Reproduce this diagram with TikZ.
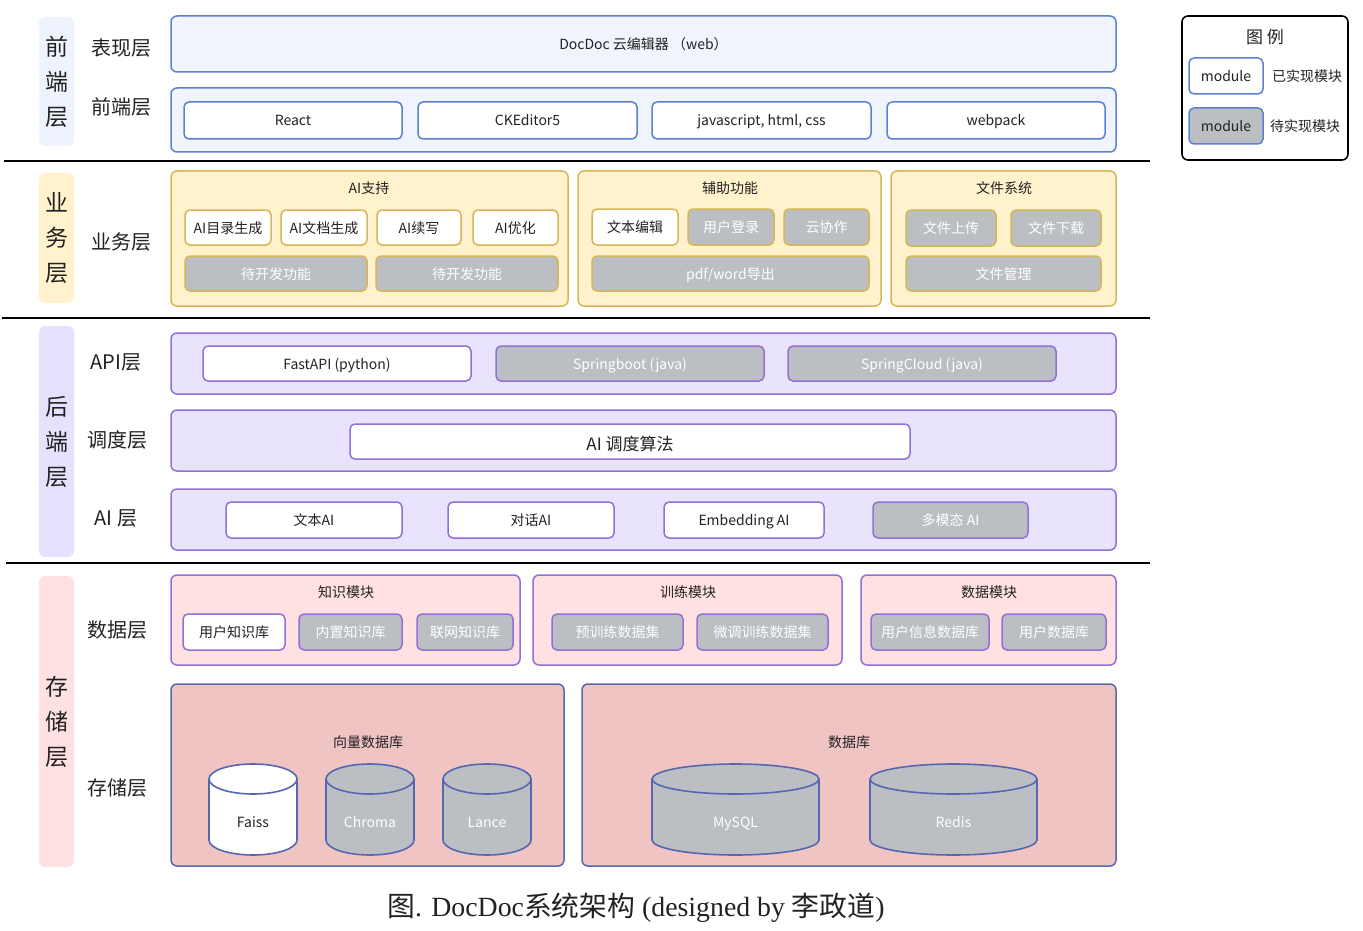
\documentclass[tikz,border=0pt]{standalone}
\usepackage{fontspec}
\setmainfont{Noto Sans CJK SC}
\newfontfamily\cjk{Noto Sans CJK SC}
\newfontfamily\serif{Liberation Serif}
\definecolor{txt}{HTML}{222222}
\definecolor{feb}{HTML}{5B80D4}
\definecolor{febg}{HTML}{EFF4FD}
\definecolor{bub}{HTML}{D6B656}
\definecolor{bubg}{HTML}{FFF2CC}
\definecolor{beb}{HTML}{9170D8}
\definecolor{bebg}{HTML}{EAE3FE}
\definecolor{stbg}{HTML}{FFE1E1}
\definecolor{dbb}{HTML}{5567B0}
\definecolor{dbbg}{HTML}{F1C4C4}
\definecolor{grayf}{HTML}{BBBEC3}
\definecolor{tagfe}{HTML}{EEF3FD}
\definecolor{tagbu}{HTML}{FFF2CC}
\definecolor{tagbe}{HTML}{E8E1FE}
\definecolor{tagst}{HTML}{FFE1E3}
\newcommand\fsz[1]{\fontsize{#1}{#1}\selectfont}
\newcommand\bx[7]{\node[#1, minimum width={(#5-#3)*1pt}, minimum height={(#6-#4)*1pt}] (#2) at ({(#3+#5)/2},{(#4+#6)/2}) {#7};}
\newcommand\cyl[6]{%
  \filldraw[cylst, fill=#1] (#3,779) -- (#3,840)
    arc[start angle=180,end angle=360,x radius={(#4-#3)/2*1pt},y radius=15pt] -- (#4,779)
    arc[start angle=0,end angle=180,x radius={(#4-#3)/2*1pt},y radius=15pt] -- cycle;
  \draw[cylst] (#3,779) arc[start angle=180,end angle=360,x radius={(#4-#3)/2*1pt},y radius=15pt];
  \node[text=#5, font=\fsz{14}, text height=12.4pt, text depth=1.4pt] (#2) at ({(#3+#4)/2},821.5) {#6};}
\begin{document}
\begin{tikzpicture}[x=1pt,y=-1pt,
  bx/.style={draw, line width=1.5pt, rounded corners=5pt, inner sep=0pt, align=center, text=txt, font=\fsz{14}, text height=12.4pt, text depth=1.4pt},
  feO/.style={bx, draw=feb, fill=febg, rounded corners=6pt},
  feI/.style={bx, draw=feb, fill=white},
  buO/.style={bx, draw=bub, fill=bubg, rounded corners=6pt},
  buI/.style={bx, draw=bub, fill=white},
  buG/.style={bx, draw=bub, fill=grayf, text=white},
  beO/.style={bx, draw=beb, fill=bebg, rounded corners=6pt},
  beI/.style={bx, draw=beb, fill=white},
  beG/.style={bx, draw=beb, fill=grayf, text=white},
  stO/.style={bx, draw=beb, fill=stbg, rounded corners=6pt},
  stI/.style={bx, draw=beb, fill=white},
  stG/.style={bx, draw=beb, fill=grayf, text=white},
  dbO/.style={bx, draw=dbb, fill=dbbg, rounded corners=6pt},
  legO/.style={bx, draw=black, fill=white, line width=1.6pt, rounded corners=6pt},
  tagbox/.style={rounded corners=6pt, inner sep=0pt, align=center, text=txt, font={\fontsize{23}{35}\selectfont}},
  lab/.style={font=\fsz{20}, text=txt, text height=18.6pt, text depth=1.4pt},
  ttl/.style={font=\fsz{14}, text=txt},
  sepline/.style={line width=1.6pt, black},
  cylst/.style={draw=dbb, line width=1.6pt}
]
\useasboundingbox (0,0) rectangle (1363,931);

% layer tags
\bx{tagbox, fill=tagfe}{tagFE}{39}{17}{74}{146}{前\\端\\层}
\bx{tagbox, fill=tagbu}{tagBU}{39}{173}{74}{303}{业\\务\\层}
\bx{tagbox, fill=tagbe}{tagBE}{39}{326}{74}{557}{后\\端\\层}
\bx{tagbox, fill=tagst}{tagST}{39}{576}{74}{867}{存\\储\\层}

% sub-layer labels
\node[lab] (lbPres) at (121,47) {表现层};
\node[lab] (lbFE) at (121,106) {前端层};
\node[lab] (lbBU) at (121,241) {业务层};
\node[lab] (lbAPI) at (116,361) {API层};
\node[lab] (lbSch) at (117,439) {调度层};
\node[lab] (lbAI) at (116,517) {AI 层};
\node[lab] (lbData) at (117,629) {数据层};
\node[lab] (lbStore) at (117,787) {存储层};

% separators
\draw[sepline] (4,161) -- (1150,161);
\draw[sepline] (2,318) -- (1150,318);
\draw[sepline] (6,563) -- (1150,563);

% frontend
\bx{feO}{pres}{171}{16}{1116}{72}{DocDoc 云编辑器 （web）}
\bx{feO}{fe}{171}{88}{1116}{152}{}
\bx{feI}{react}{184}{102}{402}{139}{React}
\bx{feI}{cke}{418}{102}{637}{139}{CKEditor5}
\bx{feI}{js}{652}{102}{871}{139}{javascript, html, css}
\bx{feI}{wp}{887}{102}{1105}{139}{webpack}

% business
\bx{buO}{aisup}{171}{171}{568}{306}{}
\node[ttl] (aisupT) at (369,188) {AI支持};
\bx{buI}{aidir}{185}{210}{271}{245}{AI目录生成}
\bx{buI}{aidoc}{281}{210}{367}{245}{AI文档生成}
\bx{buI}{aicont}{377}{210}{461}{245}{AI续写}
\bx{buI}{aiopt}{473}{210}{558}{245}{AI优化}
\bx{buG}{todoA}{185}{256}{367}{291}{待开发功能}
\bx{buG}{todoB}{376}{256}{558}{291}{待开发功能}
\bx{buO}{aux}{578}{171}{881}{306}{}
\node[ttl] (auxT) at (730,188) {辅助功能};
\bx{buI}{edit}{592}{209}{678}{245}{文本编辑}
\bx{buG}{login}{688}{209}{774}{245}{用户登录}
\bx{buG}{collab}{784}{209}{869}{245}{云协作}
\bx{buG}{export}{592}{256}{869}{291}{pdf/word导出}
\bx{buO}{fs}{891}{171}{1116}{306}{}
\node[ttl] (fsT) at (1004,188) {文件系统};
\bx{buG}{up}{906}{210}{996}{246}{文件上传}
\bx{buG}{down}{1011}{210}{1101}{246}{文件下载}
\bx{buG}{mgmt}{906}{256}{1101}{291}{文件管理}

% backend
\bx{beO}{api}{171}{333}{1116}{394}{}
\bx{beI}{fastapi}{203}{346}{471}{381}{FastAPI (python)}
\bx{beG}{sboot}{496}{346}{764}{381}{Springboot (java)}
\bx{beG}{scloud}{788}{346}{1056}{381}{SpringCloud (java)}
\bx{beO}{sched}{171}{410}{1116}{471}{}
\bx{beI, font=\fsz{17}, text height=19.4pt, text depth=1.4pt}{algo}{350}{424}{910}{459}{AI 调度算法}
\bx{beO}{ai}{171}{489}{1116}{550}{}
\bx{beI}{textai}{226}{502}{402}{538}{文本AI}
\bx{beI}{chatai}{448}{502}{614}{538}{对话AI}
\bx{beI}{embai}{664}{502}{824}{538}{Embedding AI}
\bx{beG}{mmai}{873}{502}{1028}{538}{多模态 AI}

% storage - data layer
\bx{stO}{know}{171}{575}{520}{665}{}
\node[ttl] (knowT) at (346,592) {知识模块};
\bx{stI}{uk}{183}{614}{285}{650}{用户知识库}
\bx{stG}{bk}{299}{614}{402}{650}{内置知识库}
\bx{stG}{nk}{417}{614}{513}{650}{联网知识库}
\bx{stO}{train}{533}{575}{842}{665}{}
\node[ttl] (trainT) at (688,592) {训练模块};
\bx{stG}{pre}{552}{614}{683}{650}{预训练数据集}
\bx{stG}{ft}{697}{614}{828}{650}{微调训练数据集}
\bx{stO}{data}{861}{575}{1116}{665}{}
\node[ttl] (dataT) at (989,592) {数据模块};
\bx{stG}{uinfo}{871}{614}{989}{650}{用户信息数据库}
\bx{stG}{udb}{1002}{614}{1106}{650}{用户数据库}

% storage - databases
\bx{dbO}{vec}{171}{684}{564}{866}{}
\node[ttl] (vecT) at (368,742) {向量数据库};
\bx{dbO}{rdb}{582}{684}{1116}{866}{}
\node[ttl] (rdbT) at (849,742) {数据库};
\cyl{white}{faiss}{209}{297}{txt}{Faiss}
\cyl{grayf}{chroma}{326}{414}{white}{Chroma}
\cyl{grayf}{lance}{443}{531}{white}{Lance}
\cyl{grayf}{mysql}{652}{819}{white}{MySQL}
\cyl{grayf}{redis}{870}{1037}{white}{Redis}

% legend
\bx{legO}{legend}{1182}{16}{1348}{160}{}
\node[font=\fsz{17}, text=txt, text height=16.4pt, text depth=1.4pt] (legT) at (1265,36) {图 例};
\bx{feI}{legA}{1189}{58}{1263}{94}{module}
\node[ttl] (legAT) at (1307,76) {已实现模块};
\bx{feI, fill=grayf}{legB}{1189}{108}{1263}{144}{module}
\node[ttl] (legBT) at (1305,126) {待实现模块};

% caption
\node[font=\fsz{27.8}, text=txt, inner sep=0pt] (cap) at (636,908) {{\cjk 图}{\serif . DocDoc}{\cjk 系统架构}{\serif{} (designed by }{\cjk 李政道}{\serif )}};
\end{tikzpicture}
\end{document}
